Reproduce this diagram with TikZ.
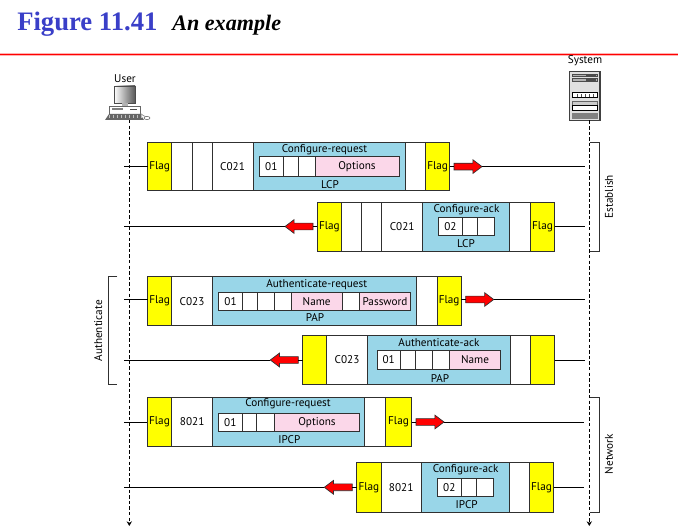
\documentclass[tikz,border=0pt]{standalone}
\usepackage{fontspec}
\setmainfont{PT Sans}
\newfontfamily\titlefont{Liberation Serif}
\usetikzlibrary{shapes.arrows,arrows.meta}
\definecolor{pppblue}{HTML}{99D6E8}
\definecolor{ppppink}{HTML}{FBD7E9}
\definecolor{pppyellow}{HTML}{FFFF00}
\definecolor{figblue}{HTML}{3A3FC8}
\definecolor{edgegray}{HTML}{303030}
\tikzset{
  x=0.75pt,y=0.75pt,
  cellbox/.style={draw=edgegray,line width=0.75pt,inner sep=0pt,outer sep=0pt,font=\fontsize{8.4}{9}\selectfont,text=black},
  flagcell/.style={cellbox,fill=pppyellow},
  whitecell/.style={cellbox,fill=white},
  bluecell/.style={cellbox,fill=pppblue},
  pinkcell/.style={cellbox,fill=ppppink},
  lbl/.style={inner sep=0pt,font=\fontsize{8.4}{9}\selectfont,text=black},
  msgline/.style={draw=black,line width=0.75pt},
  lifeline/.style={draw=black,line width=0.6pt,dash pattern=on 2.6pt off 1.6pt,-{Stealth[length=3.5pt,width=4pt]}},
  bracketline/.style={draw=edgegray,line width=0.6pt},
  redright/.style={single arrow,draw=edgegray,line width=0.5pt,fill=red,inner sep=0pt,outer sep=0pt,
    minimum height=21pt,minimum width=10pt,single arrow head extend=2.6pt,single arrow tip angle=74,text height=2.6pt,text depth=2.0pt,text width=0pt},
  redleft/.style={redright,shape border rotate=180},
}
% name, x0, x1, y0, y1, style, text
\newcommand{\cellat}[7]{%
  \pgfmathsetmacro{\cw}{(#3-#2)*0.75}%
  \pgfmathsetmacro{\ch}{(#5-#4)*0.75}%
  \node[#6,anchor=north west,minimum width=\cw pt,minimum height=\ch pt] (#1) at (#2,-#4) {#7};%
}
\begin{document}
\begin{tikzpicture}
\useasboundingbox (0,0) rectangle (678,-531);
% Title
\node[inner sep=0pt,anchor=base west,text=figblue,font=\titlefont\bfseries\fontsize{20}{22}\selectfont] (figtitle) at (17,-31) {Figure 11.41};
\node[inner sep=0pt,anchor=base west,text=black,font=\titlefont\bfseries\itshape\fontsize{16.6}{20}\selectfont] (figsub) at (172,-31) {An example};
\fill[red!30] (0,-53) rectangle (678,-56);
\fill[red] (0,-54) rectangle (678,-55.2);

% User icon
\node[lbl] (userlabel) at (125,-79) {User};
\shade[left color=white,right color=black!65,draw=black!70,line width=0.5pt] (114,-86) rectangle (135,-103);
\fill[black!30] (122,-103) rectangle (128,-106);
\draw[fill=white,draw=black!60,line width=0.5pt] (109.5,-106) rectangle (140,-114);
\fill[black!50] (112,-108.5) rectangle (123,-110);
\fill[black!70] (130,-109) rectangle (137,-110);
\fill[black!60] (109,-114) -- (140,-114) -- (144,-120) -- (105,-120) -- cycle;
\foreach \k in {109,113,...,141} \draw[black!25,line width=0.25pt] (\k,-115) -- (\k,-118);
\draw[black!55,line width=0.4pt] (140,-113) .. controls (143,-115) and (144,-117) .. (147,-117);
\draw[black!60,fill=white,line width=0.4pt] (147,-118) ellipse (3 and 1.6);
\coordinate (userbase) at (129.3,-120);
\coordinate (userend) at (129.3,-526);

% System icon
\node[lbl] (systemlabel) at (585,-61) {System};
\draw[draw=black!75,fill=black!12,line width=0.9pt] (569.7,-71.5) rectangle (600,-120.5);
\draw[black!70,fill=black!30,line width=0.4pt] (572.5,-74) rectangle (597,-76.5);
\draw[black!70,fill=black!30,line width=0.4pt] (572.5,-78.5) rectangle (597,-81.5);
\fill[black!70] (586,-75) rectangle (596,-76);
\fill[black!70] (586,-79.5) rectangle (596,-81);
\draw[black,fill=white,line width=0.4pt] (572.5,-92.5) rectangle (597,-97.5);
\foreach \k in {577,581,...,593} \draw[black!70,line width=0.3pt] (\k,-94.5) -- (\k,-97.5);
\draw[black!60,fill=black!20,line width=0.4pt] (572.5,-101.5) rectangle (597,-105.5);
\draw[black,fill=white,line width=0.4pt] (572.5,-105.5) rectangle (597,-110.5);
\fill[black!50] (572,-113.5) rectangle (597.5,-119);
\coordinate (sysbase) at (589.3,-120.5);
\coordinate (sysend) at (589.3,-526);

\draw[lifeline] (userbase) -- (userend);
\draw[lifeline] (sysbase) -- (sysend);

% Row 1
\cellat{aflagl}{147.5}{171.7}{142.3}{191}{flagcell}{Flag}
\cellat{aw1}{171.7}{192}{142.3}{191}{whitecell}{}
\cellat{aw2}{192}{212}{142.3}{191}{whitecell}{}
\cellat{aproto}{212}{253}{142.3}{191}{whitecell}{C021}
\cellat{ablue}{253}{405}{142.3}{191}{bluecell}{}
\cellat{aw3}{405}{425.5}{142.3}{191}{whitecell}{}
\cellat{aflagr}{425.5}{449.7}{142.3}{191}{flagcell}{Flag}
\cellat{ai1}{259.5}{283}{157}{176.7}{whitecell}{01}
\cellat{ai2}{283}{298.7}{157}{176.7}{whitecell}{}
\cellat{ai3}{298.7}{315}{157}{176.7}{whitecell}{}
\cellat{ai4}{315}{399}{157}{176.7}{pinkcell}{Options}
\node[lbl] (atitle) at (324.5,-150) {Configure-request};
\node[lbl] (anet) at (330,-185) {LCP};
\coordinate (aleft) at (124,-166.6);
\coordinate (aright) at (585,-166.6);
\node[redright,anchor=tail] (aarrow) at (454,-166.6) {};
\draw[msgline] (aleft) -- (aleft -| aflagl.west);
\draw[msgline] (aarrow.tail -| aflagr.east) -- (aarrow.tail);
\draw[msgline] (aarrow.tip) -- (aright);

% Row 2
\cellat{bflagl}{317}{341.7}{202}{251.5}{flagcell}{Flag}
\cellat{bw1}{341.7}{361.7}{202}{251.5}{whitecell}{}
\cellat{bw2}{361.7}{381.7}{202}{251.5}{whitecell}{}
\cellat{bproto}{381.7}{422.7}{202}{251.5}{whitecell}{C021}
\cellat{bblue}{422.7}{509.3}{202}{251.5}{bluecell}{}
\cellat{bw3}{509.3}{530.3}{202}{251.5}{whitecell}{}
\cellat{bflagr}{530.3}{554.7}{202}{251.5}{flagcell}{Flag}
\cellat{bi1}{438}{462.7}{217.3}{235.7}{whitecell}{02}
\cellat{bi2}{462.7}{477.7}{217.3}{235.7}{whitecell}{}
\cellat{bi3}{477.7}{494}{217.3}{235.7}{whitecell}{}
\node[lbl] (btitle) at (466.5,-209.5) {Configure-ack};
\node[lbl] (bnet) at (466,-244) {LCP};
\coordinate (bleft) at (124,-226.5);
\coordinate (bright) at (585,-226.5);
\node[redleft,anchor=tail] (barrow) at (313,-226.5) {};
\draw[msgline] (bright -| bflagr.east) -- (bright);
\draw[msgline] (barrow.tail -| bflagl.west) -- (barrow.tail);
\draw[msgline] (barrow.tip) -- (bleft);

% Row 3
\cellat{cflagl}{147.5}{171.7}{276.5}{325.7}{flagcell}{Flag}
\cellat{cproto}{171.7}{212.3}{276.5}{325.7}{whitecell}{C023}
\cellat{cblue}{212.3}{416.7}{276.5}{325.7}{bluecell}{}
\cellat{cw3}{416.7}{437}{276.5}{325.7}{whitecell}{}
\cellat{cflagr}{437}{461.3}{276.5}{325.7}{flagcell}{Flag}
\cellat{ci1}{218.7}{242.3}{292.3}{310.3}{whitecell}{01}
\cellat{ci2}{242.3}{257.7}{292.3}{310.3}{whitecell}{}
\cellat{ci3}{257.7}{274.3}{292.3}{310.3}{whitecell}{}
\cellat{ci4}{274.3}{291}{292.3}{310.3}{whitecell}{}
\cellat{ci5}{291}{342.3}{292.3}{310.3}{pinkcell}{Name}
\cellat{ci6}{342.3}{359.3}{292.3}{310.3}{whitecell}{}
\cellat{ci7}{359.3}{410.7}{292.3}{310.3}{pinkcell}{Password}
\node[lbl] (ctitle) at (316.7,-284.3) {Authenticate-request};
\node[lbl] (cnet) at (315,-318) {PAP};
\coordinate (cleft) at (124,-299.5);
\coordinate (cright) at (585,-299.5);
\node[redright,anchor=tail] (carrow) at (465.7,-299.5) {};
\draw[msgline] (cleft) -- (cleft -| cflagl.west);
\draw[msgline] (carrow.tail -| cflagr.east) -- (carrow.tail);
\draw[msgline] (carrow.tip) -- (cright);

% Row 4
\cellat{dflagl}{302.7}{326.7}{335.3}{384.3}{flagcell}{}
\cellat{dproto}{326.7}{367.3}{335.3}{384.3}{whitecell}{C023}
\cellat{dblue}{367.3}{510}{335.3}{384.3}{bluecell}{}
\cellat{dw3}{510}{530.7}{335.3}{384.3}{whitecell}{}
\cellat{dflagr}{530.7}{554.7}{335.3}{384.3}{flagcell}{}
\cellat{di1}{377}{400.3}{350.3}{369.3}{whitecell}{01}
\cellat{di2}{400.3}{415.7}{350.3}{369.3}{whitecell}{}
\cellat{di3}{415.7}{432.7}{350.3}{369.3}{whitecell}{}
\cellat{di4}{432.7}{449.3}{350.3}{369.3}{whitecell}{}
\cellat{di5}{449.3}{500.7}{350.3}{369.3}{pinkcell}{Name}
\node[lbl] (dtitle) at (439,-342.7) {Authenticate-ack};
\node[lbl] (dnet) at (440,-378.3) {PAP};
\coordinate (dleft) at (124,-360);
\coordinate (dright) at (585,-360);
\node[redleft,anchor=tail] (darrow) at (298.3,-360) {};
\draw[msgline] (dright -| dflagr.east) -- (dright);
\draw[msgline] (darrow.tail -| dflagl.west) -- (darrow.tail);
\draw[msgline] (darrow.tip) -- (dleft);

% Row 5
\cellat{eflagl}{147.3}{171.7}{397.3}{446.7}{flagcell}{Flag}
\cellat{eproto}{171.7}{212.7}{397.3}{446.7}{whitecell}{8021}
\cellat{eblue}{212.7}{364.7}{397.3}{446.7}{bluecell}{}
\cellat{ew3}{364.7}{385.3}{397.3}{446.7}{whitecell}{}
\cellat{eflagr}{385.3}{411.7}{397.3}{446.7}{flagcell}{Flag}
\cellat{ei1}{218.3}{242.3}{413.3}{431.3}{whitecell}{01}
\cellat{ei2}{242.3}{256.7}{413.3}{431.3}{whitecell}{}
\cellat{ei3}{256.7}{274.7}{413.3}{431.3}{whitecell}{}
\cellat{ei4}{274.7}{359.3}{413.3}{431.3}{pinkcell}{Options}
\node[lbl] (etitle) at (288,-404) {Configure-request};
\node[lbl] (enet) at (289.3,-440) {IPCP};
\coordinate (eleft) at (124,-422);
\coordinate (eright) at (584,-422);
\node[redright,anchor=tail] (earrow) at (416,-422) {};
\draw[msgline] (eleft) -- (eleft -| eflagl.west);
\draw[msgline] (earrow.tail -| eflagr.east) -- (earrow.tail);
\draw[msgline] (earrow.tip) -- (eright);

% Row 6
\cellat{fflagl}{356.7}{381}{462.7}{512}{flagcell}{Flag}
\cellat{fproto}{381}{421.3}{462.7}{512}{whitecell}{8021}
\cellat{fblue}{421.3}{509.3}{462.7}{512}{bluecell}{}
\cellat{fw3}{509.3}{529.3}{462.7}{512}{whitecell}{}
\cellat{fflagr}{529.3}{553.7}{462.7}{512}{flagcell}{Flag}
\cellat{fi1}{437.3}{461.3}{478.3}{496.7}{whitecell}{02}
\cellat{fi2}{461.3}{476.3}{478.3}{496.7}{whitecell}{}
\cellat{fi3}{476.3}{493.7}{478.3}{496.7}{whitecell}{}
\node[lbl] (ftitle) at (465.7,-470) {Configure-ack};
\node[lbl] (fnet) at (466.7,-505) {IPCP};
\coordinate (fleft) at (124,-487.3);
\coordinate (fright) at (584,-487.3);
\node[redleft,anchor=tail] (farrow) at (352.3,-487.3) {};
\draw[msgline] (fright -| fflagr.east) -- (fright);
\draw[msgline] (farrow.tail -| fflagl.west) -- (farrow.tail);
\draw[msgline] (farrow.tip) -- (fleft);

% Brackets
\draw[bracketline] (589.5,-142.3) -- (599.3,-142.3) -- (599.3,-251.5) -- (589.5,-251.5);
\node[lbl,rotate=90] (establish) at (609,-196.7) {Establish};
\draw[bracketline] (589.5,-397.3) -- (599.3,-397.3) -- (599.3,-512) -- (589.5,-512);
\node[lbl,rotate=90] (network) at (609,-454) {Network};
\draw[bracketline] (117.3,-276.5) -- (108.3,-276.5) -- (108.3,-384) -- (117.3,-384);
\node[lbl,rotate=90] (authenticate) at (98.3,-330.7) {Authenticate};
\end{tikzpicture}
\end{document}
